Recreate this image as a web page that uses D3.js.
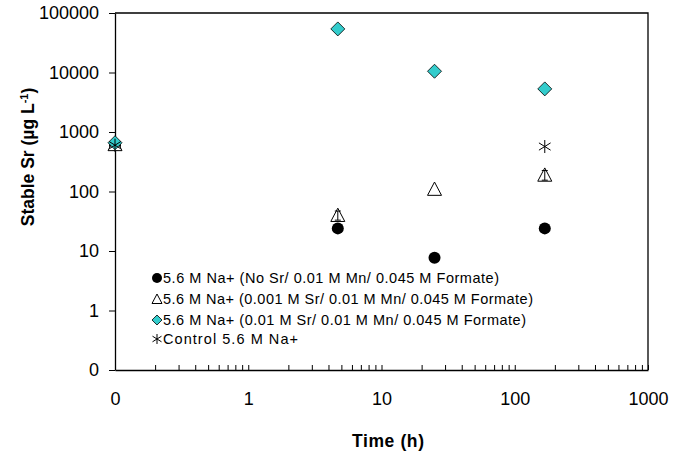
<!DOCTYPE html>
<html>
<head>
<meta charset="utf-8">
<script src="https://cdn.jsdelivr.net/npm/d3@7"></script>
<style>
  body { margin: 0; background: #fff; }
  text { font-family: Arial, "Liberation Sans", sans-serif; }
</style>
</head>
<body>
<div id="grafica"></div>
<script>
// Datos (tiempo 0 se pinta en el borde izquierdo, 0.1)
const times = [0, 4.7, 25, 168];
const noSr = [600, 24, 7.7, 24];
const lowSr = [620, 40, 110, 190];
const lowSrErr = [0, 7, 0, 35];
const highSr = [660, 54000, 10500, 5300];
const control = [600, null, null, 570];

const seriesNames = [
    "5.6 M Na+ (No Sr/ 0.01 M Mn/ 0.045 M Formate)",
    "5.6 M Na+ (0.001 M Sr/ 0.01 M Mn/ 0.045 M Formate)",
    "5.6 M Na+ (0.01 M Sr/ 0.01 M Mn/ 0.045 M Formate)",
    "Control 5.6 M Na+"
];

const xTicks = [0.1, 1, 10, 100, 1000];
const xTickLabels = ["0", "1", "10", "100", "1000"];
const yTicks = [0.1, 1, 10, 100, 1000, 10000, 100000];
const yTickLabels = ["0", "1", "10", "100", "1000", "10000", "100000"];

var width = 676
var height = 457
var margin = {top: 13, right: 28, bottom: 87, left: 115}

var x = d3.scaleLog()
    .domain([0.1, 1000])
    .range([margin.left, width - margin.right])

var y = d3.scaleLog()
    .domain([0.1, 100000])
    .range([height - margin.bottom, margin.top])

var tx = t => x(t === 0 ? 0.1 : t)

var svg = d3.select("#grafica")
    .append("svg")
    .attr("width", width)
    .attr("height", height)

// marco superior y derecho
svg.append("path")
    .attr("d", `M${x(0.1)},${y(100000)}H${x(1000)}V${y(0.1)}`)
    .attr("fill", "none")
    .attr("stroke", "black")
    .attr("stroke-width", 1.3)

// ticks menores del eje x (2..9 en cada decada)
var minorX = []
xTicks.slice(0, -1).forEach(d => { for (var k = 2; k <= 9; k++) minorX.push(d * k) })

var xAxis = g => g
    .attr("transform", `translate(0,${y(0.1)})`)
    .call(d3.axisBottom(x)
        .tickValues(xTicks.concat(minorX))
        .tickSize(-5)
        .tickSizeOuter(0)
        .tickPadding(22)
        .tickFormat(d => {
            var i = xTicks.indexOf(d)
            return i >= 0 ? xTickLabels[i] : ""
        }))
    .call(g => g.selectAll("text").attr("font-size", 18).attr("font-family", null))

var yAxis = g => g
    .attr("transform", `translate(${x(0.1)},0)`)
    .call(d3.axisLeft(y)
        .tickValues(yTicks)
        .tickSize(6)
        .tickSizeOuter(0)
        .tickPadding(10)
        .tickFormat((d, i) => yTickLabels[i]))
    .call(g => g.selectAll("text").attr("font-size", 18).attr("font-family", null))

svg.append("g").call(xAxis)
svg.append("g").call(yAxis)
svg.selectAll(".domain").attr("stroke-width", 1.3)

// titulos de los ejes
svg.append("text")
    .attr("x", 388)
    .attr("y", 447)
    .attr("text-anchor", "middle")
    .attr("font-size", 17.5)
    .attr("font-weight", "bold")
    .attr("textLength", 72)
    .text("Time (h)")

var yt = svg.append("text")
    .attr("transform", "translate(34,157) rotate(-90)")
    .attr("text-anchor", "middle")
    .attr("font-size", 17.5)
    .attr("font-weight", "bold")
yt.append("tspan").text("Stable Sr (\u00b5g L")
yt.append("tspan").attr("baseline-shift", "super").attr("font-size", 11).text("-1")
yt.append("tspan").text(")")

// formas de los marcadores
var triPath = s => `M0,${-s * 0.5}L${s * 0.5},${s * 0.45}L${-s * 0.5},${s * 0.45}Z`
var diaPath = s => `M0,${-s / 2}L${s / 2},0L0,${s / 2}L${-s / 2},0Z`
var starPath = s => {
    var h = s / 2, dx = s * 0.45, dy = s * 0.28
    return `M0,${-h}V${h}M${-dx},${-dy}L${dx},${dy}M${-dx},${dy}L${dx},${-dy}`
}

var pts = (vals) => times.map((t, i) => ({t: t, v: vals[i], i: i})).filter(d => d.v != null)

// circulos negros
svg.append("g")
    .selectAll("circle")
    .data(pts(noSr))
    .join("circle")
    .attr("cx", d => tx(d.t))
    .attr("cy", d => y(d.v))
    .attr("r", 6)
    .attr("fill", "black")

// triangulos con barras de error
var gTri = svg.append("g")
gTri.selectAll("path.tri")
    .data(pts(lowSr))
    .join("path")
    .attr("class", "tri")
    .attr("transform", d => `translate(${tx(d.t)},${y(d.v)})`)
    .attr("d", triPath(14))
    .attr("fill", "white")
    .attr("stroke", "black")
    .attr("stroke-width", 1)
gTri.selectAll("path.err")
    .data(pts(lowSr).filter(d => lowSrErr[d.i] > 0))
    .join("path")
    .attr("class", "err")
    .attr("d", d => {
        var cx = tx(d.t), y0 = y(d.v - lowSrErr[d.i]), y1 = y(d.v + lowSrErr[d.i])
        return `M${cx - 3},${y0}H${cx + 3}M${cx},${y0}V${y1}M${cx - 3},${y1}H${cx + 3}`
    })
    .attr("fill", "none")
    .attr("stroke", "black")
    .attr("stroke-width", 1)

// rombos cian
svg.append("g")
    .selectAll("path")
    .data(pts(highSr))
    .join("path")
    .attr("transform", d => `translate(${tx(d.t)},${y(d.v)})`)
    .attr("d", diaPath(14))
    .attr("fill", "#33cccc")
    .attr("stroke", "black")
    .attr("stroke-width", 0.8)

// asteriscos (control)
svg.append("g")
    .selectAll("path")
    .data(pts(control))
    .join("path")
    .attr("transform", d => `translate(${tx(d.t)},${y(d.v)})`)
    .attr("d", starPath(13))
    .attr("fill", "none")
    .attr("stroke", "black")
    .attr("stroke-width", 1)

// leyenda
var legendY = [278, 299, 320, 339]
var legendLen = [336, 370, 363, 135]
var legend = svg.append("g")
seriesNames.forEach((name, i) => {
    var cx = 157, cy = legendY[i]
    if (i === 0) legend.append("circle").attr("cx", cx).attr("cy", cy).attr("r", 5).attr("fill", "black")
    if (i === 1) legend.append("path").attr("transform", `translate(${cx},${cy})`).attr("d", triPath(10))
        .attr("fill", "white").attr("stroke", "black")
    if (i === 2) legend.append("path").attr("transform", `translate(${cx},${cy})`).attr("d", diaPath(10))
        .attr("fill", "#33cccc").attr("stroke", "black").attr("stroke-width", 0.8)
    if (i === 3) legend.append("path").attr("transform", `translate(${cx},${cy})`).attr("d", starPath(10))
        .attr("fill", "none").attr("stroke", "black")
    legend.append("text")
        .attr("x", 163)
        .attr("y", cy)
        .attr("dy", "0.36em")
        .attr("font-size", 14.5)
        .attr("textLength", legendLen[i])
        .attr("lengthAdjust", "spacing")
        .text(name)
})
</script>
</body>
</html>
